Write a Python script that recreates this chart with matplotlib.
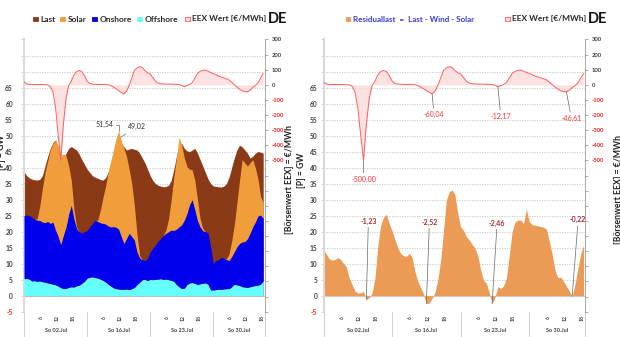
import numpy as np
import matplotlib.pyplot as plt
from matplotlib.patches import Rectangle
from matplotlib.transforms import blended_transform_factory

plt.rcParams['font.family'] = ['Lato', 'DejaVu Sans']

# Stundenwerte von vier Sonntagen hintereinander (h 0..91)
days = ["So 02.Jul", "So 16.Jul", "So 23.Jul", "So 30.Jul"]
hour_marks = [6, 12, 18]

last = [38.7, 37.5, 36.8, 36.4, 36.2, 36.1, 36.3, 37.5, 40.5, 43.5, 46.0, 47.8, 48.6, 46.5, 44.0, 43.0, 44.5, 46.0, 46.6, 46.0, 45.5, 44.2, 42.5, 41.0,
        39.5, 38.5, 37.5, 37.0, 36.7, 36.3, 36.1, 36.8, 38.5, 41.0, 44.0, 47.5, 49.02, 47.5, 46.5, 45.5, 45.8, 46.0, 45.7, 45.5, 44.5, 43.0, 41.5, 39.5,
        37.5, 36.0, 35.0, 34.5, 34.2, 34.0, 34.1, 34.5, 36.0, 39.5, 43.5, 47.0, 47.5, 46.0, 45.2, 45.0, 45.5, 46.0, 44.5, 42.5, 40.5, 38.5, 36.5, 35.0,
        34.3, 34.1, 34.0, 33.9, 34.2, 35.0, 37.0, 40.0, 43.0, 45.5, 47.0, 46.5, 45.5, 44.5, 43.0, 43.5, 44.5, 45.0, 44.8, 44.5]

solar = [0, 0, 0, 0, 0, 0.4, 4.5, 10.5, 15.7, 18.8, 22.9, 24.5, 27.9, 28.5, 27.8, 25.23, 22.3, 15.0, 7.7, 3.0, 0.5, 0, 0, 0,
         0, 0, 0, 0, 0.3, 3.7, 7.9, 11.6, 16.7, 20.5, 23.9, 27.6, 30.74, 30.0, 29.7, 25.6, 20.0, 16.5, 10.6, 5.3, 0.7, 0, 0, 0,
         0, 0, 0, 0, 0, 0, 1.0, 4.0, 9.5, 16.6, 22.2, 27.96, 24.8, 19.4, 14.6, 11.0, 9.3, 9.2, 6.5, 2.5, 0.7, 0, 0, 0,
         0, 0, 0, 0, 0, 0.2, 2.0, 4.8, 8.3, 13.7, 19.7, 25.7, 24.6, 22.7, 22.0, 21.0, 17.0, 11.6, 5.8, 4.8]

onshore = [19.7, 19.8, 19.8, 19.9, 19.2, 19.1, 18.9, 18.6, 18.6, 19.2, 18.8, 19.4, 17.1, 15.5, 13.5, 16.8, 19.2, 22.9, 25.5, 21.3, 17.9, 16.7, 15.6, 15.5,
           14.8, 15.7, 16.6, 17.9, 17.7, 17.6, 17.8, 18.1, 18.2, 18.5, 19.1, 19.2, 18.7, 16.5, 14.3, 15.8, 17.6, 16.3, 14.8, 10.2, 7.6, 6.2, 5.9, 6.9,
           8.6, 9.8, 10.7, 11.8, 12.6, 13.7, 14.3, 15.0, 15.7, 15.9, 17.3, 18.7, 20.0, 21.2, 22.2, 24.5, 25.9, 22.9, 20.0, 17.8, 16.4, 16.0, 15.9, 13.5,
           8.2, 9.1, 9.2, 10.0, 9.7, 9.1, 8.8, 9.4, 10.1, 11.9, 13.1, 14.0, 14.2, 15.2, 16.7, 18.5, 19.8, 21.6, 21.6, 19.6]

offshore = [5.3, 5.4, 5.2, 4.6, 4.7, 4.5, 4.6, 4.4, 4.2, 4.0, 3.8, 3.6, 3.4, 3.0, 2.5, 2.2, 2.3, 2.6, 2.8, 2.7, 3.1, 3.3, 3.9, 4.5,
            5.5, 5.8, 5.9, 5.7, 5.5, 5.2, 4.8, 4.3, 3.6, 3.0, 2.5, 2.2, 2.1, 2.0, 2.0, 2.1, 1.9, 2.2, 2.6, 3.5, 4.2, 5.0, 5.1, 4.7,
            5.1, 5.0, 5.1, 5.2, 5.3, 5.1, 5.2, 5.0, 4.8, 4.5, 3.5, 2.8, 2.2, 2.4, 3.5, 4.0, 4.1, 3.9, 3.5, 3.7, 3.9, 4.0, 3.6, 1.8,
            1.8, 1.9, 2.0, 2.0, 2.1, 2.2, 2.2, 2.8, 3.6, 3.4, 3.2, 2.8, 2.7, 2.6, 2.8, 3.0, 3.2, 3.3, 3.6, 4.6]

eex = [20, 6, 3, 2, 2, 2, 2, 2, 1, 0, -10, -45, -150, -330, -500, -260, -90, -5, 25, 65, 88, 95, 88, 62,
       25, 10, 5, 4, 3, 3, 2, 2, 1, -5, -15, -25, -38, -50, -60.04, -42, -5, 45, 95, 112, 120, 115, 95, 80,
       72, 48, 25, 12, 8, 6, 5, 5, 5, 4, 3, 2, -3, -12.17, -5, 3, 15, 45, 75, 90, 96, 98, 90, 82,
       75, 68, 58, 52, 46, 40, 33, 18, 2, -15, -28, -40, -44, -46.61, -35, -18, -5, 12, 45, 75]

residual = [14.5, 13.0, 11.5, 11.1, 11.3, 11.9, 11.3, 10.1, 9.0, 5.5, 3.5, 1.5, 0.8, 0.9, 1.3, -1.23, -0.6, 0.8, 5.5, 15.5, 22.0, 24.5, 25.4, 22.5,
            20.2, 17.5, 15.0, 13.2, 12.5, 12.3, 13.2, 12.0, 7.5, 4.5, 2.5, 0.5, -2.52, -2.3, -0.8, 1.0, 5.0, 11.0, 20.5, 29.9, 32.5, 33.0, 31.5, 25.5,
            21.5, 20.4, 18.4, 17.4, 16.0, 14.8, 12.5, 8.0, 4.8, 3.9, 1.0, -2.46, -0.5, 2.8, 2.3, 3.0, 5.5, 12.5, 20.0, 23.0, 23.6, 23.6, 22.6, 27.0,
            23.1, 22.2, 22.0, 21.8, 21.6, 21.4, 20.8, 17.0, 13.0, 8.0, 5.6, 5.8, 4.5, 3.0, 1.5, -0.22, 3.5, 8.5, 13.0, 15.8]

peak_hour = 36
eex_marks = [14, 38, 61, 85]
res_marks = [15, 36, 59, 87]

C_LAST = "#8b3a17"
C_SOLAR = "#f09e3c"
C_ON = "#0000ee"
C_OFF = "#66ffff"
C_RES = "#eb9b55"
C_EEX = "#ff5c5c"
C_EEX_FILL = "#fcdcdc"
C_TXT = "#404040"
C_NEG = "#ff2020"

hours = np.arange(len(last))
x_end = 91.5
W, H = 620, 337

fig = plt.figure(figsize=(W / 100, H / 100), dpi=100)


def px_box(x0, x1, ytop, ybot):
    return [x0 / W, 1 - ybot / H, (x1 - x0) / W, (ybot - ytop) / H]


def fmt(v):
    return f"{v:.2f}".replace(".", ",")


def frame(ax, pad):
    ax.set_xlim(0, x_end)
    ax.set_ylim(-5, 80)
    ticks = np.arange(-5, 85, 5)
    ax.set_yticks(ticks)
    ax.set_yticklabels([str(t) if t <= 65 else "" for t in ticks])
    for lab, t in zip(ax.get_yticklabels(), ticks):
        lab.set_color(C_NEG if t < 0 else C_TXT)
        lab.set_fontweight("bold")
    ax.tick_params(axis="y", length=2, width=0.5, color="#c0c0c0", labelsize=4.8, pad=pad)
    for t in ticks:
        if t != 0:
            ax.axhline(t, color="#c4c4c4", lw=0.6, ls=(0, (1.5, 1.5)), zorder=0)
    ax.axhline(0, color="#d4d4d4", lw=0.9, zorder=1)
    ax.set_xticks([])
    for s in ["top", "bottom", "right"]:
        ax.spines[s].set_visible(False)
    ax.spines["left"].set_color("#d9d9d9")
    ax.spines["left"].set_linewidth(1.5)

    # zweistufige Kategorienachse: Stunden und Tage
    tr = blended_transform_factory(ax.transData, ax.transAxes)
    h_ax = 272.2
    for i, d in enumerate(days):
        start = 24 * i
        end = min(start + 24, x_end)
        ax.text((start + end) / 2, -18.5 / h_ax, d, transform=tr, ha="center", va="center",
                fontsize=4, fontweight="bold", color=C_TXT)
        for hm in hour_marks:
            ax.text(start + hm + 0.5, -6 / h_ax, str(hm), transform=tr, rotation=90,
                    ha="center", va="center", fontsize=3.6, fontweight="bold", color=C_TXT)
    for xb in [0, 24, 48, 72, x_end]:
        ax.plot([xb, xb], [0, -27 / h_ax], transform=tr, color="#c8c8c8", lw=0.6, clip_on=False)


def price_axis(ax):
    ax2 = ax.twinx()
    ax2.set_xlim(0, x_end)
    ax2.set_ylim(-1500, 300)
    ticks = np.arange(-1500, 301, 100)
    ax2.set_yticks(ticks)
    ax2.set_yticklabels([str(t) if t >= -500 else "" for t in ticks])
    for lab, t in zip(ax2.get_yticklabels(), ticks):
        lab.set_color(C_NEG if t < 0 else C_TXT)
        lab.set_fontweight("bold")
    ax2.tick_params(axis="y", length=2, width=0.5, color="#8c8c8c", labelsize=4.2, pad=3)
    for s in ["top", "bottom", "left"]:
        ax2.spines[s].set_visible(False)
    ax2.spines["right"].set_color("#999999")
    ax2.spines["right"].set_linewidth(0.6)
    ax2.fill_between(hours, 0, eex, color=C_EEX_FILL, alpha=0.85, lw=0)
    ax2.plot(hours, eex, color=C_EEX, lw=0.7)
    return ax2


# linkes Diagramm: Last und Erzeugung
axL = fig.add_axes(px_box(24, 264.5, 39.5, 311.7))
frame(axL, 6)
off = np.array(offshore)
wind = off + np.array(onshore)
ws = wind + np.array(solar)
axL.fill_between(hours, 0, last, color=C_LAST, lw=0, zorder=2)
axL.fill_between(hours, 0, off, color=C_OFF, lw=0, zorder=3)
axL.fill_between(hours, off, wind, color=C_ON, lw=0, zorder=3)
axL.fill_between(hours, wind, ws, color=C_SOLAR, lw=0, zorder=3)
axL.annotate(fmt(ws[peak_hour]), xy=(peak_hour, ws[peak_hour]), xytext=(-5, 6),
             textcoords="offset pixels", ha="right", va="center", fontsize=5, color="#333333",
             arrowprops=dict(arrowstyle="-", color="#666666", lw=0.5, shrinkA=0, shrinkB=0,
                             connectionstyle="angle,angleA=0,angleB=90"), zorder=6)
axL.annotate(fmt(last[peak_hour]), xy=(peak_hour, last[peak_hour]), xytext=(9, 12),
             textcoords="offset pixels", ha="left", va="center", fontsize=5, color="#333333",
             arrowprops=dict(arrowstyle="-", color="#666666", lw=0.5, shrinkA=1, shrinkB=2), zorder=6)
price_axis(axL)

# rechtes Diagramm: Residuallast
axR = fig.add_axes(px_box(323.5, 585, 39.5, 311.7))
frame(axR, 2.5)
axR.fill_between(hours, 0, residual, color=C_RES, lw=0, zorder=2)
res_offsets = [(2, 75), (3, 78), (5, 77), (6, 73)]
for h, (dx, dy) in zip(res_marks, res_offsets):
    axR.annotate(fmt(residual[h]), xy=(h, residual[h]), xytext=(dx, dy), textcoords="offset pixels",
                 ha="center", va="bottom", fontsize=5, fontweight="bold", color="#a33030",
                 arrowprops=dict(arrowstyle="-", color="#666666", lw=0.5, shrinkA=0, shrinkB=0), zorder=6)
axR2 = price_axis(axR)
eex_offsets = [(0, -15), (2, -17), (3, -26), (5, -23)]
for h, (dx, dy) in zip(eex_marks, eex_offsets):
    axR2.annotate(fmt(eex[h]), xy=(h, eex[h]), xytext=(dx, dy), textcoords="offset pixels",
                  ha="center", va="top", fontsize=5, color="#ff3030",
                  arrowprops=dict(arrowstyle="-", color="#666666", lw=0.5, shrinkA=0, shrinkB=0), zorder=6)


# Legenden und Beschriftungen
def fx(x):
    return x / W


def fy(y):
    return 1 - y / H


def square(x, color, edge=None):
    fig.patches.append(Rectangle((fx(x), fy(21.3)), 4.5 / W, 4.5 / H, transform=fig.transFigure,
                                 facecolor=color, edgecolor=edge or color, lw=0.6))


for x, c, name in [(33, C_LAST, "Last"), (60, C_SOLAR, "Solar"), (92, C_ON, "Onshore"),
                   (137, C_OFF, "Offshore")]:
    square(x, c)
    fig.text(fx(x + 7.5), fy(19), name, ha="left", va="center", fontsize=6, fontweight="bold", color="#262626")
square(185, C_EEX_FILL, C_EEX)
fig.text(fx(192), fy(19), "EEX Wert [€/MWh]", ha="left", va="center", fontsize=6, fontweight="bold", color="#262626")
fig.text(fx(268), fy(19), "DE", ha="left", va="center", fontsize=10.5, fontweight="bold", color="#111111")

square(346, C_RES)
fig.text(fx(353), fy(19), "Residuallast  =  Last - Wind - Solar", ha="left", va="center",
         fontsize=5.8, fontweight="bold", color="#3a3ad0")
square(505, C_EEX_FILL, C_EEX)
fig.text(fx(512), fy(19), "EEX Wert [€/MWh]", ha="left", va="center", fontsize=6, fontweight="bold", color="#262626")
fig.text(fx(588), fy(19), "DE", ha="left", va="center", fontsize=10.5, fontweight="bold", color="#111111")

ylab = dict(rotation=90, ha="center", va="center", fontsize=6.2, fontweight="bold", color="#222222")
fig.text(fx(2), fy(152), "[P] = GW", **ylab)
fig.text(fx(290), fy(180), "[Börsenwert EEX] = €/MWh", **ylab)
fig.text(fx(301), fy(170), "[P] = GW", **ylab)
fig.text(fx(618.5), fy(190), "[Börsenwert EEX] = €/MWh", **ylab)

fig.savefig("out.png", dpi=100)
